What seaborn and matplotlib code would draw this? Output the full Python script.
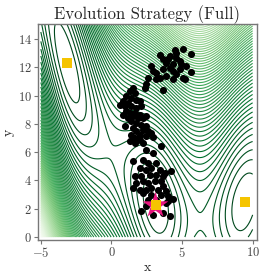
import numpy as np
import pandas as pd
import matplotlib
matplotlib.use("Agg")
import matplotlib.pyplot as plt
import seaborn as sns

sns.set_style("ticks")
plt.rcParams["font.family"] = "serif"
plt.rcParams["font.serif"] = ["cmr10", "DejaVu Serif"]
plt.rcParams["mathtext.fontset"] = "cm"
plt.rcParams["axes.formatter.use_mathtext"] = True

# ES samples
pts_x = [3.42, 4.48, 5.07, 5.66, 4.13, 4.6, 4.83, 3.66, 3.89, 4.36, 4.95, 5.31, 5.66,
         2.83, 2.95, 2.59, 3.18, 3.66, 4.13, 4.36, 4.6, 5.07, 5.19, 4.36, 3.89, 3.42,
         3.18, 2.48, 2.36, 3.66, 4.83, 4.6, 4.0,
         1.53, 1.30, 1.65, 1.06, 1.42, 1.77, 0.83, 1.18, 0.59, 0.94, 1.42, 2.0, 2.12,
         1.77, 1.06, 1.30, 1.65, 2.0, 0.83, 1.53, 1.18, 1.89, 2.24, 2.48, 1.42, 1.77,
         0.94, 2.12, 2.48, 1.53, 1.77, 2.24, 2.59, 2.83, 2.0, 1.42, 1.65, 2.48, 2.95,
         1.30, 1.65, 2.24, 2.0, 3.54, 2.48, 2.95, 1.53, 2.24, 2.59, 3.18, 2.0, 2.48,
         2.83, 3.42, 3.77, 4.25, 1.65, 2.12, 2.71, 3.18, 3.66, 1.77, 2.24, 2.59, 3.07,
         3.54, 1.53, 2.0, 2.48, 2.83, 3.30, 3.66, 3.89, 2.24, 2.83, 3.54, 4.0, 4.36,
         2.59, 2.12, 2.48, 2.95, 3.66, 4.13, 3.89, 4.0, 3.18]
pts_y = [12.9, 13.25, 13.3, 12.95, 12.8, 12.68, 12.45, 12.55, 12.31, 12.2, 12.2, 12.08, 11.66,
         12.08, 11.73, 11.26, 11.62, 11.85, 11.97, 11.73, 11.5, 11.26, 11.15, 11.15, 11.38, 11.26,
         11.15, 10.8, 10.55, 10.38, 11.85, 13.0, 12.55,
         10.54, 10.3, 10.19, 9.95, 9.83, 9.71, 9.6, 9.48, 9.36, 9.25, 9.25, 9.6, 9.25,
         9.13, 8.89, 8.77, 8.77, 8.65, 8.65, 8.54, 8.42, 8.42, 8.42, 8.54, 8.18, 8.07,
         7.83, 7.95, 7.83, 7.71, 7.48, 7.59, 7.48, 7.36, 7.24, 7.24, 7.0, 7.12, 7.07,
         6.77, 6.65, 6.65, 6.88, 6.41, 6.18, 5.94, 5.35, 5.47, 5.23, 5.23, 4.88, 4.76,
         4.88, 4.76, 4.53, 4.64, 4.29, 4.29, 4.41, 4.41, 4.29, 3.82, 3.93, 3.82, 3.93,
         3.93, 3.46, 3.35, 3.35, 3.46, 3.35, 3.58, 3.23, 3.11, 2.99, 2.99, 2.88, 2.69,
         2.64, 1.81, 2.17, 1.58, 1.7, 1.46, 2.40, 2.52, 2.64]

best_x = [3.1]
best_y = [2.3]
minima_x = [-np.pi, np.pi, 9.42478]
minima_y = [12.275, 2.275, 2.475]

x_ticks = [-5, 0, 5, 10]
y_ticks = [0, 2, 4, 6, 8, 10, 12, 14]

# Branin surface
gx = np.linspace(-5, 10, 400)
gy = np.linspace(0, 15, 400)
X, Y = np.meshgrid(gx, gy)
b = 5.1 / (4 * np.pi ** 2)
c = 5 / np.pi
Z = (Y - b * X ** 2 + c * X - 6) ** 2 + 10 * (1 - 1 / (8 * np.pi)) * np.cos(X) + 10

fig = plt.figure(figsize=(2.64, 2.77), dpi=100)
ax = fig.add_axes([0.144, 0.134, 0.829, 0.779])
ax.contour(X, Y, Z, levels=100, cmap="Greens_r", linewidths=0.8)

df = pd.DataFrame({"x": pts_x, "y": pts_y})
sns.scatterplot(data=df, x="x", y="y", ax=ax, color="black", s=26, linewidth=0, zorder=3)
ax.scatter(best_x, best_y, marker="*", s=380, color="#e8177f", zorder=4, linewidths=0)
ax.scatter(minima_x, minima_y, marker="s", s=44, color="#f5c400", zorder=5, linewidths=0)

ax.set_xlim(-5.2, 10.3)
ax.set_ylim(-0.2, 15.05)
ax.set_xticks(x_ticks)
ax.set_yticks(y_ticks)
ax.set_xlabel("x", fontsize=10, labelpad=1)
ax.set_ylabel("y", fontsize=10, labelpad=2)
ax.set_title("Evolution Strategy (Full)", fontsize=12, pad=3)
for sp in ax.spines.values():
    sp.set_visible(True)
    sp.set_color("#777777")
    sp.set_linewidth(1.0)
ax.tick_params(labelsize=9, colors="#444444", length=3, width=0.8, pad=1.5)
ax.tick_params(color="#777777")

fig.savefig("out.png", dpi=100)
